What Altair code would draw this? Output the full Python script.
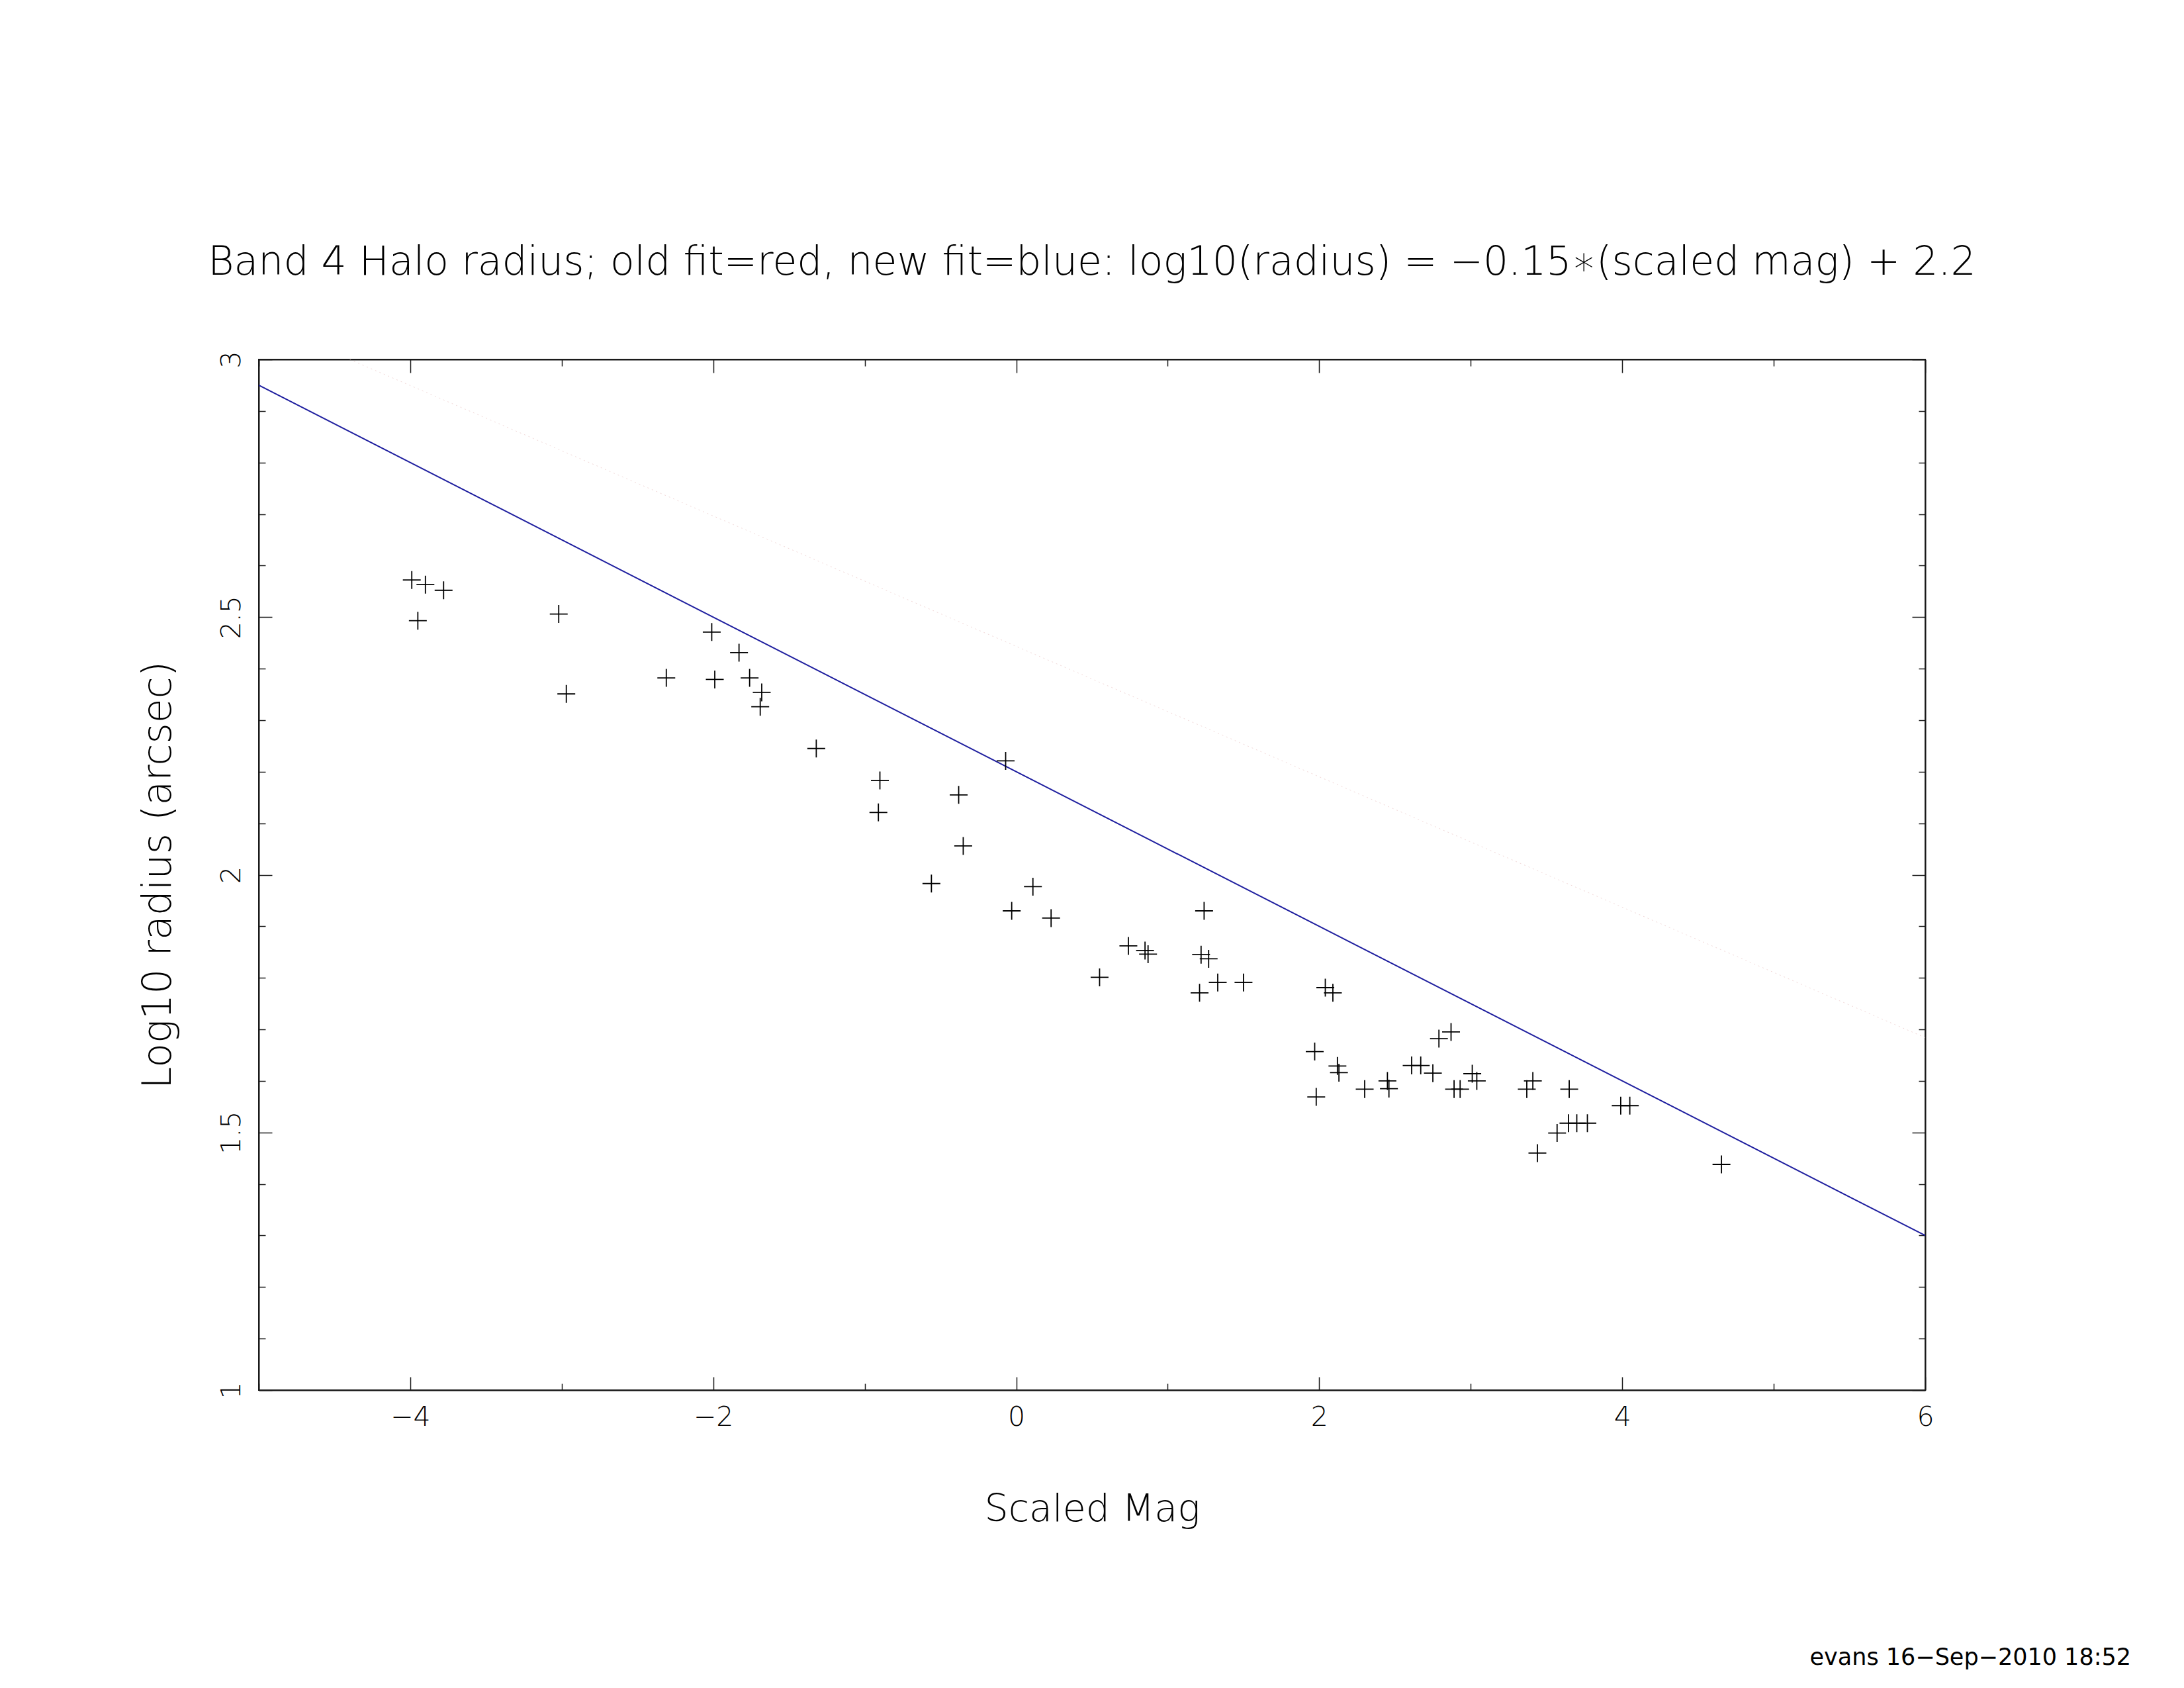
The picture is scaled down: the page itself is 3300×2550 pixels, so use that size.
import altair as alt
import pandas as pd

# ---- data ----
mag = [-3.99, -3.90, -3.78, -3.95, -3.02, -2.97, -2.31, -2.01, -1.99, -1.83,
       -1.76, -1.68, -1.69, -1.32, -0.90, -0.91, -0.38, -0.35, -0.07, -0.56,
       0.11, -0.03, 0.23, 1.24, 0.74, 0.85, 0.87, 1.22, 1.27, 0.55,
       1.33, 1.50, 1.21, 2.04, 2.09, 1.97, 1.98, 2.12, 2.13, 2.30,
       2.45, 2.46, 2.61, 2.67, 2.75, 2.79, 2.87, 2.89, 2.93, 3.01,
       3.04, 3.37, 3.41, 3.65, 3.44, 3.57, 3.645, 3.70, 3.77, 3.99,
       4.05, 4.655]
log_radius = [2.572, 2.563, 2.552, 2.493, 2.506, 2.351, 2.382, 2.471, 2.379, 2.431,
              2.382, 2.354, 2.326, 2.245, 2.183, 2.121, 2.155, 2.056, 2.221, 1.983,
              1.977, 1.930, 1.916, 1.930, 1.862, 1.853, 1.846, 1.845, 1.837, 1.801,
              1.791, 1.791, 1.771, 1.781, 1.771, 1.657, 1.569, 1.629, 1.616, 1.584,
              1.600, 1.585, 1.630, 1.630, 1.615, 1.682, 1.695, 1.584, 1.584, 1.614,
              1.600, 1.584, 1.600, 1.584, 1.460, 1.499, 1.518, 1.518, 1.518, 1.552,
              1.552, 1.438]

new_fit_x = [-5.0, 6.0]
new_fit_y = [2.95, 1.30]
old_fit_x = [-4.4, 6.0]
old_fit_y = [3.0, 1.684]

x_label_values = [-4, -2, 0, 2, 4, 6]
x_tick_values = [-5, -4, -3, -2, -1, 0, 1, 2, 3, 4, 5, 6]
y_label_values = [1, 1.5, 2, 2.5, 3]
y_tick_values = [1.0, 1.1, 1.2, 1.3, 1.4, 1.5, 1.6, 1.7, 1.8, 1.9, 2.0,
                 2.1, 2.2, 2.3, 2.4, 2.5, 2.6, 2.7, 2.8, 2.9, 3.0]

title_text = "Band 4 Halo radius; old fit=red, new fit=blue: log10(radius) = \u22120.15\u2217(scaled mag) + 2.2"
x_title = "Scaled Mag"
y_title = "Log10 radius (arcsec)"
footer_text = ["evans 16\u2212Sep\u22122010 18:52"]

# ---- layout ----
W, H = 2518, 1557
FONT = "DejaVu Sans"
LIGHT = 200
INK = "#1a1a1a"

xscale = alt.Scale(domain=[-5, 6], nice=False, zero=False)
yscale = alt.Scale(domain=[1, 3], nice=False, zero=False)

x_major = "abs(round(datum.value) % 2) == 0"
y_major = "abs(round(datum.value * 10) % 5) == 0"


def tick_axis(orient, offset, values, test):
    return alt.Axis(orient=orient, offset=offset, values=values, labels=False,
                    domain=True, domainColor=INK, domainWidth=2,
                    grid=False, ticks=True, title=None,
                    tickSize={"condition": {"test": test, "value": 20}, "value": 10},
                    tickColor=INK, tickWidth=1.5)


pts_df = pd.DataFrame({"mag": mag, "r": log_radius})
new_df = pd.DataFrame({"fx": new_fit_x, "fy": new_fit_y})
old_df = pd.DataFrame({"ox": old_fit_x, "oy": old_fit_y})
foot_df = pd.DataFrame({"t": footer_text})

points = alt.Chart(pts_df).mark_point(
    shape="M-1,0L1,0M0,-1L0,1", size=729, filled=False,
    stroke="black", strokeWidth=1.8, opacity=1
).encode(
    x=alt.X("mag:Q", scale=xscale, axis=alt.Axis(
        orient="bottom", values=x_label_values, format="~g",
        ticks=False, tickSize=0, domain=False, grid=False,
        labelPadding=53, labelBaseline="alphabetic", labelAlign="center",
        labelFlush=False, labelOverlap=False,
        labelFont=FONT, labelFontWeight=LIGHT, labelFontSize=41, labelColor="black",
        title=x_title, titleFont=FONT, titleFontWeight=LIGHT, titleFontSize=57,
        titleColor="black", titleX=W / 2, titleY=197, titleAlign="center",
        titleBaseline="alphabetic")),
    y=alt.Y("r:Q", scale=yscale, axis=alt.Axis(
        orient="left", values=y_label_values, format="~g",
        ticks=False, tickSize=0, domain=False, grid=False,
        labelAngle=270, labelAlign="center", labelBaseline="alphabetic",
        labelPadding=29, labelFlush=False, labelOverlap=False,
        labelFont=FONT, labelFontWeight=LIGHT, labelFontSize=41, labelColor="black",
        title=y_title, titleFont=FONT, titleFontWeight=LIGHT, titleFontSize=60,
        titleColor="black", titleAngle=270, titleX=-134, titleY=H / 2,
        titleAlign="center", titleBaseline="alphabetic")),
)

new_fit = alt.Chart(new_df).mark_line(color="#1f1f9f", strokeWidth=2, clip=True).encode(
    x=alt.X("fx:Q", scale=xscale, axis=tick_axis("top", -H, x_tick_values, x_major)),
    y=alt.Y("fy:Q", scale=yscale, axis=tick_axis("right", -W, y_tick_values, y_major)),
)

old_fit = alt.Chart(old_df).mark_line(color="#e6bcbc", strokeWidth=1, opacity=0.6,
                                      strokeDash=[2, 5], clip=True).encode(
    x=alt.X("ox:Q", scale=xscale, axis=tick_axis("bottom", -H, x_tick_values, x_major)),
    y=alt.Y("oy:Q", scale=yscale, axis=tick_axis("left", -W, y_tick_values, y_major)),
)

footer = alt.Chart(foot_df).mark_text(
    align="right", baseline="alphabetic", fontSize=35, font=FONT, color="black"
).encode(text="t:N", x=alt.value(2829), y=alt.value(1972))

chart = alt.layer(old_fit, new_fit, points, footer).resolve_axis(
    x="independent", y="independent"
).properties(
    width=W, height=H,
    title=alt.TitleParams(title_text, font=FONT, fontWeight=LIGHT, fontSize=60,
                          color="black", anchor="middle", frame="group",
                          baseline="alphabetic", offset=55),
    autosize=alt.AutoSizeParams(type="none"),
    padding={"left": 383, "top": 535, "right": 375, "bottom": 440},
).configure_view(stroke=INK, strokeWidth=2)

chart.save("out.html", embed_options={"renderer": "svg", "actions": False})
